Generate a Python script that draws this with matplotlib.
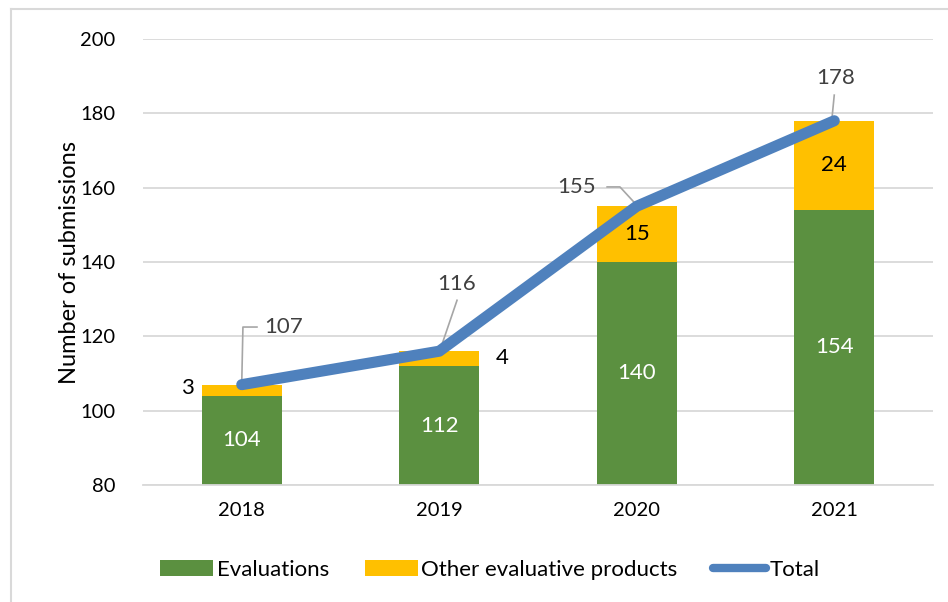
import numpy as np
import matplotlib.pyplot as plt
from matplotlib.lines import Line2D
from matplotlib.patches import Patch

years = ["2018", "2019", "2020", "2021"]
evaluations = [104, 112, 140, 154]
other_products = [3, 4, 15, 24]
total = [107, 116, 155, 178]

GREEN = "#5B9040"
YELLOW = "#FFC000"
BLUE = "#4F81BD"
GRID = "#D9D9D9"
LABEL_GRAY = "#404040"

plt.rcParams["font.family"] = ["Lato", "DejaVu Sans"]

fig = plt.figure(figsize=(9.48, 6.02), dpi=100)
ax = fig.add_axes([143 / 948, 1 - 485 / 602, 790 / 948, 446 / 602])

x = np.arange(len(years))
width = 0.405
ax.bar(x, evaluations, width, bottom=0, color=GREEN, zorder=2)
ax.bar(x, other_products, width, bottom=evaluations, color=YELLOW, zorder=2)
ax.plot(x, total, color=BLUE, lw=8, solid_capstyle="round",
        solid_joinstyle="round", zorder=4)

ax.set_xlim(-0.5, len(years) - 0.5)
ax.set_ylim(80, 200)
ax.set_yticks(range(80, 201, 20))
ax.set_xticks(x)
ax.set_xticklabels(years)
ax.tick_params(axis="both", length=0, labelsize=14.5, colors="black")
ax.tick_params(axis="y", pad=20)
ax.tick_params(axis="x", pad=12)
ax.yaxis.grid(True, color=GRID, lw=1.3, zorder=0)
ax.set_axisbelow(True)
for side in ["top", "right", "left"]:
    ax.spines[side].set_visible(False)
ax.spines["bottom"].set_color(GRID)
ax.spines["bottom"].set_linewidth(1.3)
ax.set_ylabel("Number of submissions", fontsize=17, labelpad=0)

FS = 16

# values inside the bars
for i in range(len(years)):
    ax.text(x[i], (80 + evaluations[i]) / 2, str(evaluations[i]), color="white",
            ha="center", va="center", fontsize=FS, zorder=5)
    if other_products[i] >= 10:
        ax.text(x[i], evaluations[i] + other_products[i] / 2, str(other_products[i]),
                color="black", ha="center", va="center", fontsize=FS, zorder=5)

# small segments labelled beside the bar
ax.text(x[0] - 0.277, evaluations[0] + other_products[0] / 2 + 0.5, str(other_products[0]),
        ha="center", va="center", fontsize=FS, color="black")
ax.text(x[1] + 0.32, evaluations[1] + other_products[1] / 2 + 0.3, str(other_products[1]),
        ha="center", va="center", fontsize=FS, color="black")

# total labels with leader lines
leaders = [
    ([x[0] + 0.0, x[0] + 0.006, x[0] + 0.077], [total[0] + 0.5, 122.5, 122.5],
     (x[0] + 0.115, 122.5), "left"),
    ([x[1] + 0.004, x[1] + 0.09], [total[1] + 0.3, 129.7], (x[1] + 0.09, 134.2), "center"),
    ([x[2], x[2] - 0.085, x[2] - 0.15], [155.3, 160.2, 160.2], (x[2] - 0.205, 160.2), "right"),
    ([x[3] - 0.01, x[3] + 0.0], [total[3] + 1.5, 184.9], (x[3] + 0.005, 189.6), "center"),
]
for xs, ys, pos, ha in leaders:
    ax.plot(xs, ys, color="#A6A6A6", lw=1.2, zorder=3)
for (xs, ys, pos, ha), v in zip(leaders, total):
    ax.text(pos[0], pos[1], str(v), ha=ha, va="center", fontsize=FS, color=LABEL_GRAY)

handles = [
    Patch(facecolor=GREEN, label="Evaluations"),
    Patch(facecolor=YELLOW, label="Other evaluative products"),
    Line2D([0], [0], color=BLUE, lw=6, solid_capstyle="round", label="Total"),
]
fig.legend(handles=handles, loc="center", bbox_to_anchor=(490 / 948, 1 - 570 / 602),
           ncol=3, frameon=False, fontsize=FS, handlelength=2.4, handleheight=0.7,
           handletextpad=0.15, columnspacing=1.6)

# chart frame
fig.add_artist(Line2D([11 / 948, 11 / 948], [0, 1 - 9 / 602], color=GRID, lw=1.5))
fig.add_artist(Line2D([11 / 948, 1], [1 - 9 / 602, 1 - 9 / 602], color=GRID, lw=1.5))

fig.savefig("out.png", dpi=100)
